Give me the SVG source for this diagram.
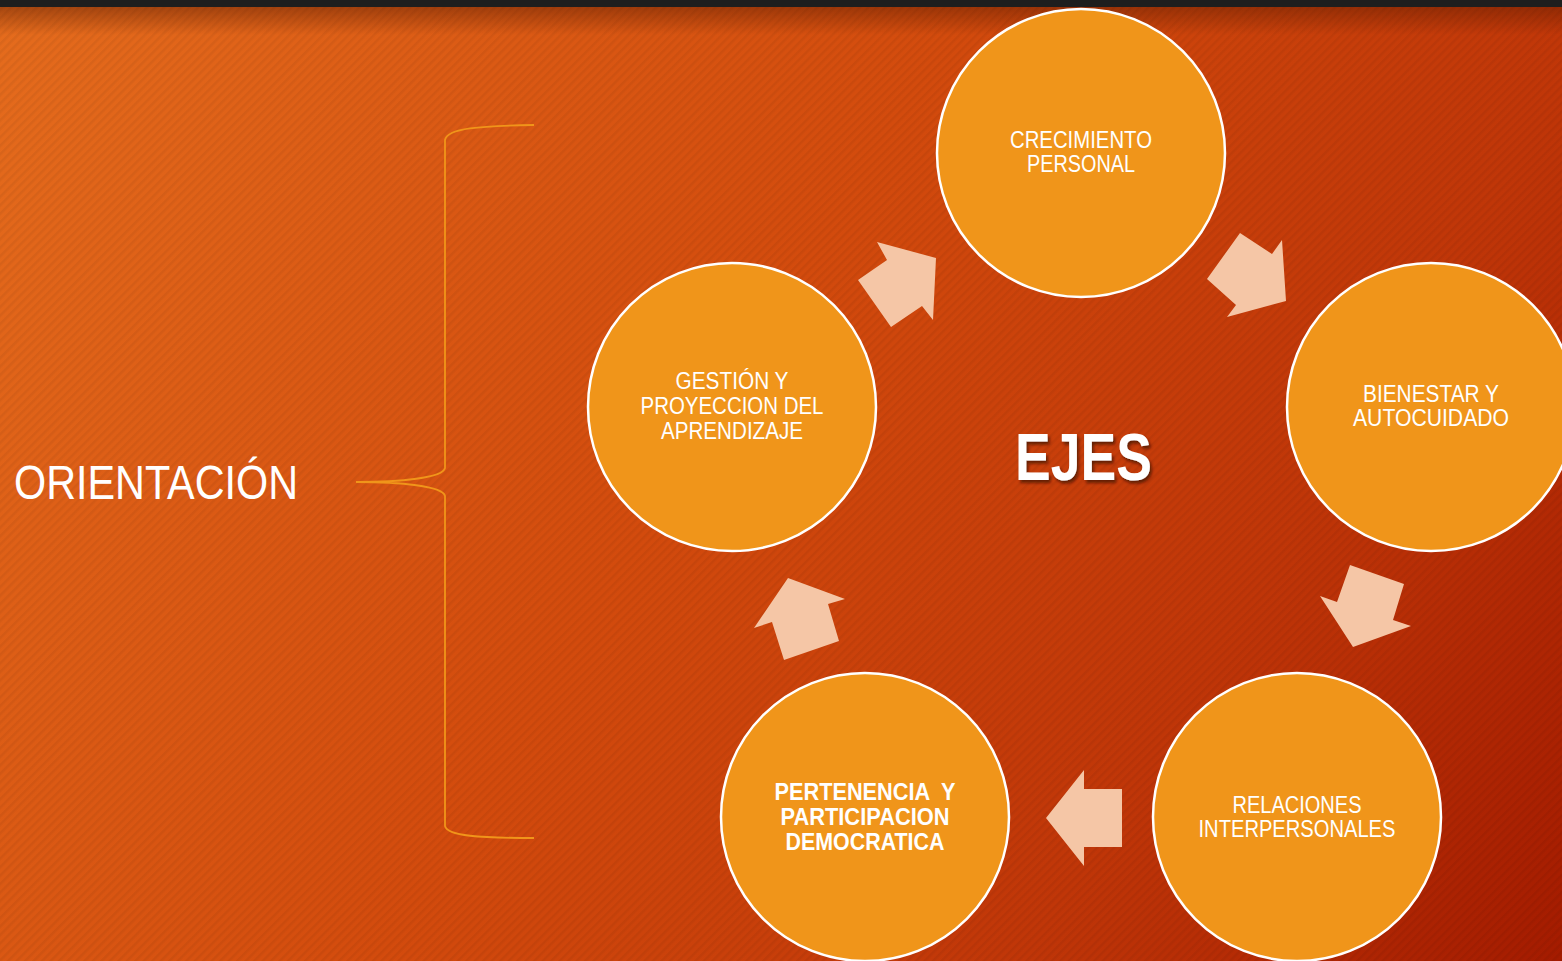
<svg xmlns="http://www.w3.org/2000/svg" width="1562" height="961" viewBox="0 0 1562 961">
  <defs>
    <linearGradient id="bg" x1="0" y1="0" x2="1562" y2="961" gradientUnits="userSpaceOnUse">
      <stop offset="0" stop-color="#E56C1D"/>
      <stop offset="0.45" stop-color="#D34B0D"/>
      <stop offset="0.75" stop-color="#C03608"/>
      <stop offset="1" stop-color="#A41B00"/>
    </linearGradient>
    <pattern id="stripes" width="6" height="6" patternUnits="userSpaceOnUse" patternTransform="rotate(-45)">
      <rect x="0" y="0" width="6" height="2.5" fill="#000" fill-opacity="0.05"/>
    </pattern>
    <linearGradient id="topshade" x1="0" y1="0" x2="0" y2="1">
      <stop offset="0" stop-color="#5a1a00" stop-opacity="0.45"/>
      <stop offset="1" stop-color="#5a1a00" stop-opacity="0"/>
    </linearGradient>
    <filter id="shadow" x="-20%" y="-20%" width="140%" height="140%">
      <feDropShadow dx="2" dy="3" stdDeviation="1.5" flood-color="#3a0e00" flood-opacity="0.7"/>
    </filter>
    <style>
      .circle { fill: #F0951A; stroke: #FFFFFF; stroke-width: 2.5; }
      .arrow { fill: #F5C6A6; }
      .lbl { font-family: "Liberation Sans", Arial, sans-serif; font-size: 23px; fill: #FFFFFF; text-anchor: middle; }
      .bold { font-weight: bold; }
      .brace { fill: none; stroke: #F0951A; stroke-width: 1.8; }
    </style>
  </defs>

  <rect x="0" y="0" width="1562" height="961" fill="url(#bg)"/>
  <rect x="0" y="0" width="1562" height="961" fill="url(#stripes)"/>
  <rect x="0" y="7" width="1562" height="28" fill="url(#topshade)"/>
  <rect x="0" y="0" width="1562" height="7" fill="#1E1E1E"/>

  <g id="brace">
    <path class="brace" d="M534,125 C480,126 447,128 445,140 L445,468 C443,478 400,482 356,482 C400,482 443,486 445,496 L445,826 C447,836 480,838 534,838"/>
  </g>

  <text id="orientacion" x="14" y="499" font-family="Liberation Sans, Arial, sans-serif" font-size="49" fill="#FFFFFF" textLength="284" lengthAdjust="spacingAndGlyphs">ORIENTACIÓN</text>

  <text id="ejes" x="1015" y="480" font-family="Liberation Sans, Arial, sans-serif" font-size="66" font-weight="bold" fill="#FFFFFF" textLength="137" lengthAdjust="spacingAndGlyphs" filter="url(#shadow)">EJES</text>

  <g id="connectors">
    <polygon class="arrow" points="858,280 891,327 922,306 933,320 936,258 877,242 887,260"/>
    <polygon class="arrow" points="1240,233 1272,254 1282,240 1286,301 1227,317 1236,305 1207,279"/>
    <polygon class="arrow" points="1350,565 1404,584 1393,620 1411,626 1353,647 1320,596 1337,602"/>
    <polygon class="arrow" points="1122,789 1084,789 1084,770 1046,818 1084,866 1084,847 1122,847"/>
    <polygon class="arrow" points="784,660 839,641 828,604 845,599 788,578 754,628 772,622"/>
  </g>

  <g id="crecimiento">
    <circle class="circle" cx="1081" cy="153" r="144"/>
    <text class="lbl" x="1081" y="148" textLength="142" lengthAdjust="spacingAndGlyphs">CRECIMIENTO</text>
    <text class="lbl" x="1081" y="172" textLength="108" lengthAdjust="spacingAndGlyphs">PERSONAL</text>
  </g>

  <g id="bienestar">
    <circle class="circle" cx="1431" cy="407" r="144"/>
    <text class="lbl" x="1431" y="402" textLength="136" lengthAdjust="spacingAndGlyphs">BIENESTAR Y</text>
    <text class="lbl" x="1431" y="426" textLength="156" lengthAdjust="spacingAndGlyphs">AUTOCUIDADO</text>
  </g>

  <g id="relaciones">
    <circle class="circle" cx="1297" cy="817" r="144"/>
    <text class="lbl" x="1297" y="813" textLength="129" lengthAdjust="spacingAndGlyphs">RELACIONES</text>
    <text class="lbl" x="1297" y="837" textLength="197" lengthAdjust="spacingAndGlyphs">INTERPERSONALES</text>
  </g>

  <g id="pertenencia">
    <circle class="circle" cx="865" cy="817" r="144"/>
    <text class="lbl bold" x="865" y="800" textLength="181" lengthAdjust="spacingAndGlyphs" xml:space="preserve">PERTENENCIA  Y</text>
    <text class="lbl bold" x="865" y="825" textLength="169" lengthAdjust="spacingAndGlyphs">PARTICIPACION</text>
    <text class="lbl bold" x="865" y="850" textLength="159" lengthAdjust="spacingAndGlyphs">DEMOCRATICA</text>
  </g>

  <g id="gestion">
    <circle class="circle" cx="732" cy="407" r="144"/>
    <text class="lbl" x="732" y="389" textLength="113" lengthAdjust="spacingAndGlyphs">GESTIÓN Y</text>
    <text class="lbl" x="732" y="414" textLength="183" lengthAdjust="spacingAndGlyphs">PROYECCION DEL</text>
    <text class="lbl" x="732" y="439" textLength="142" lengthAdjust="spacingAndGlyphs">APRENDIZAJE</text>
  </g>
</svg>
